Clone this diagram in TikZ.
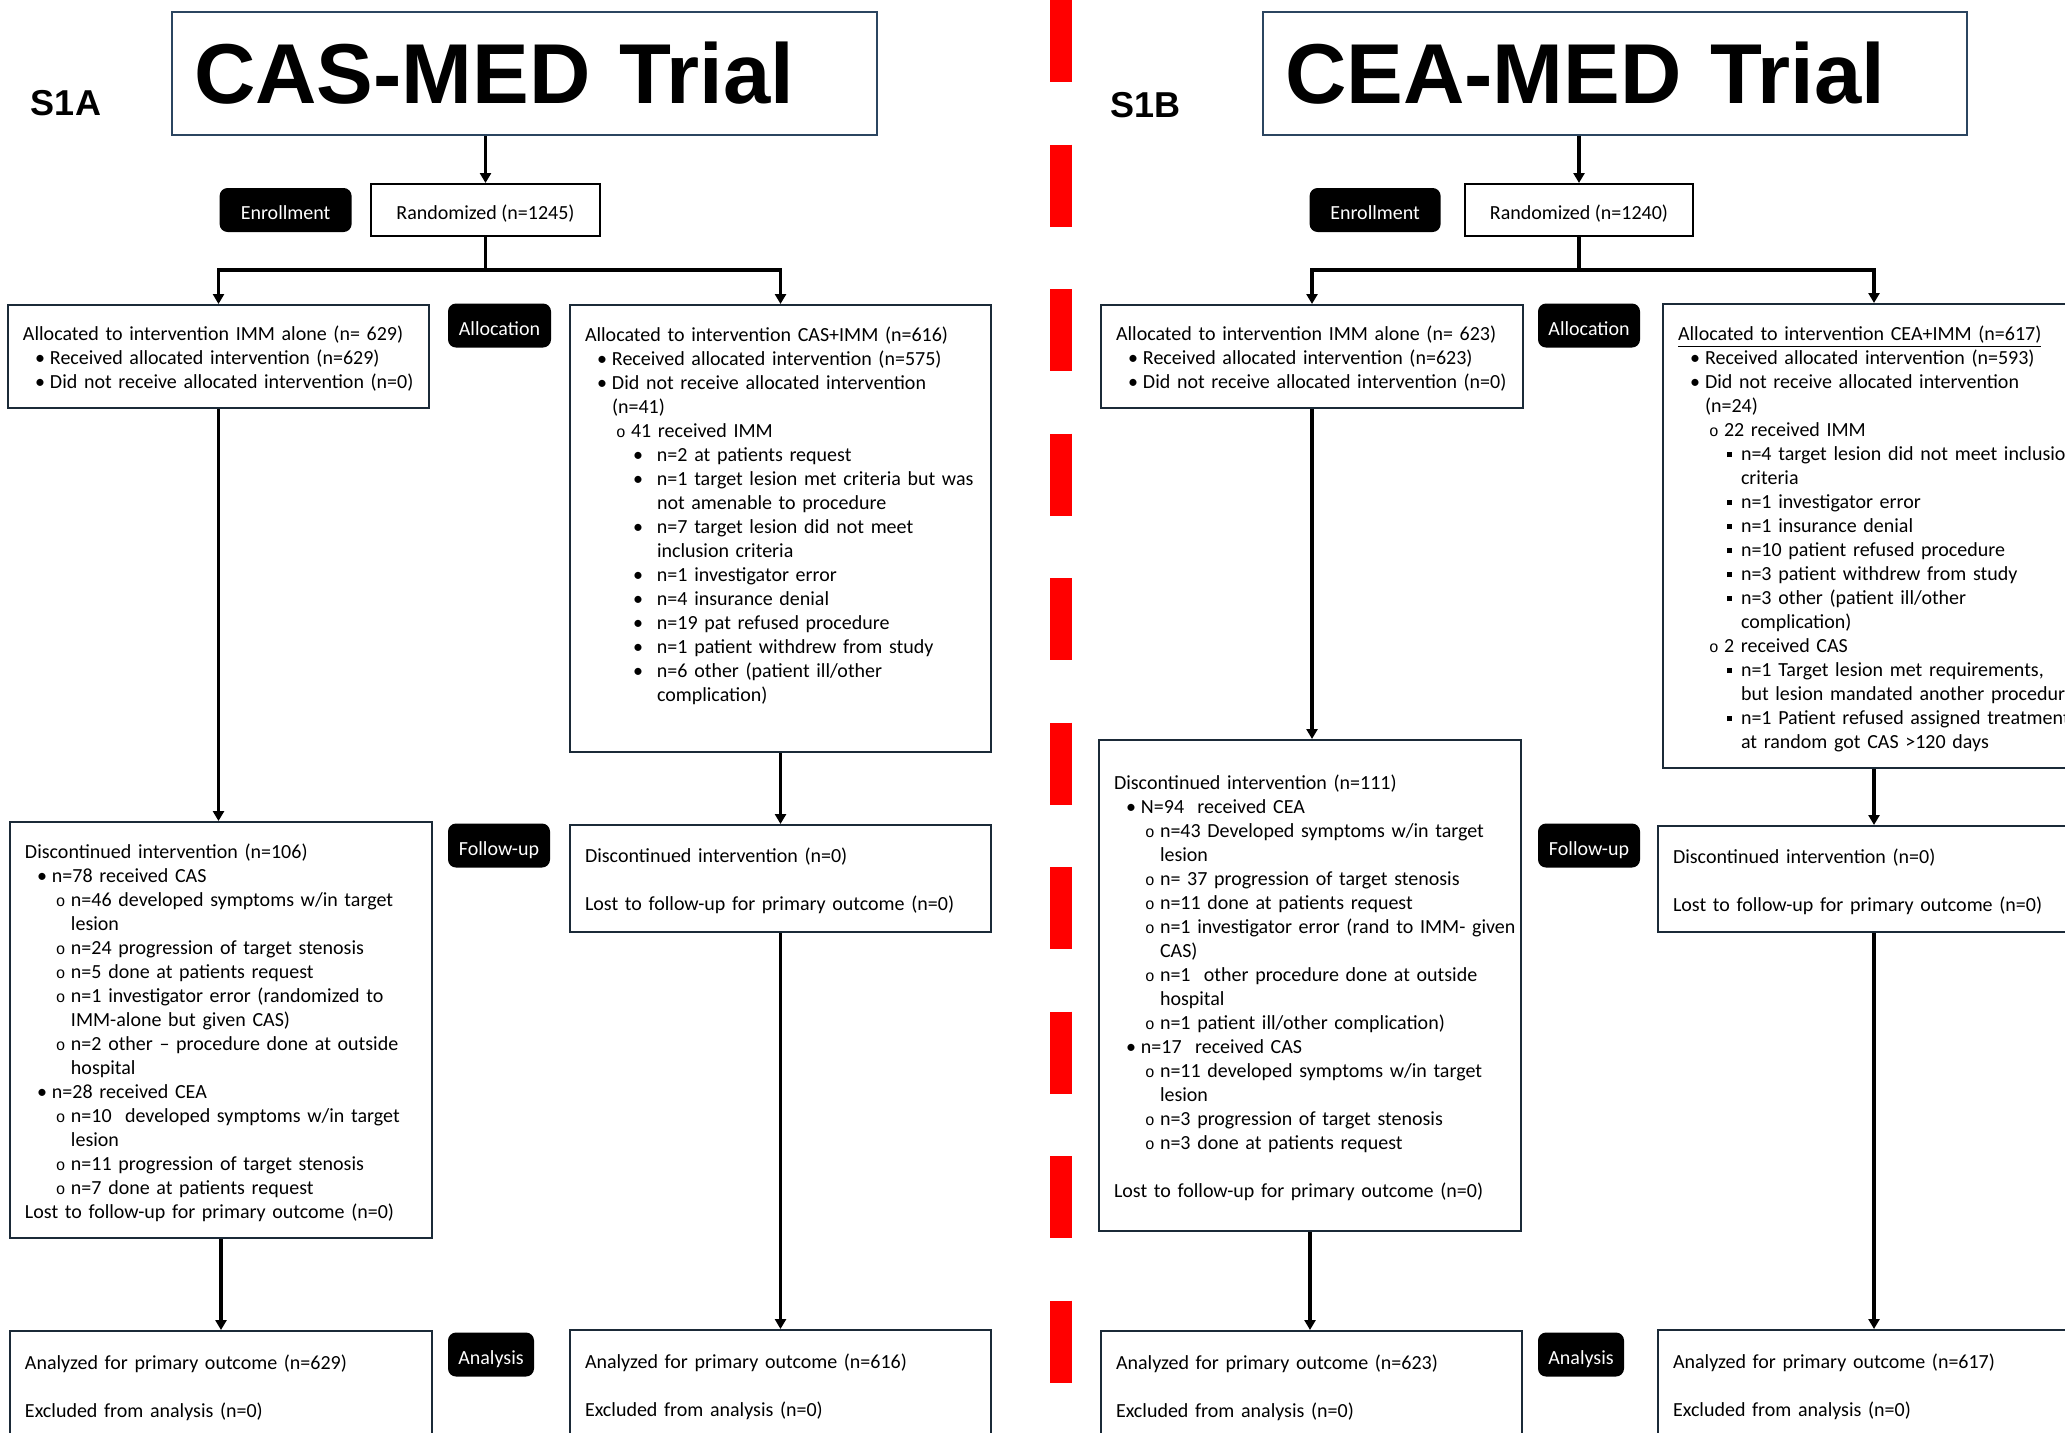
\documentclass[tikz,border=0pt]{standalone}
\usepackage{fontspec}
\setmainfont{Carlito}
\newfontfamily\headfont{Liberation Sans}
\newfontfamily\markfont{Liberation Mono}
\usetikzlibrary{positioning,arrows.meta}

\definecolor{boxline}{HTML}{1B2A38}
\definecolor{titleline}{HTML}{2B4560}

\newcommand{\flowfont}{\fontsize{10pt}{12pt}\selectfont}
\newcommand{\circmark}{{\markfont\fontsize{8pt}{8pt}\selectfont o}}
\newcommand{\sqmark}{\rule[1.6pt]{2.6pt}{2.6pt}}
\newcommand{\lzero}[1]{\par\noindent\strut\mbox{#1}}
\newcommand{\lone}[1]{\par\noindent\strut\makebox[13.5pt][l]{\hspace*{6pt}\textbullet}\mbox{#1}}
\newcommand{\ltwo}[1]{\par\noindent\strut\makebox[23pt][l]{\hspace*{15.5pt}\circmark}\mbox{#1}}
\newcommand{\lthr}[1]{\par\noindent\strut\makebox[36pt][l]{\hspace*{24pt}\textbullet}\mbox{#1}}
\newcommand{\lsq}[1]{\par\noindent\strut\makebox[31.5pt][l]{\hspace*{24.5pt}\sqmark}\mbox{#1}}
\newcommand{\lcont}[2]{\par\noindent\strut\hspace*{#1}\mbox{#2}}
\newcommand{\lblank}{\par\noindent\strut}
\newcommand{\lgap}[1]{\par\kern#1\hrule height 0pt width 0pt}

\tikzset{
  flowbox/.style={draw=boxline, line width=1pt, anchor=north west, inner xsep=7.5pt, inner ysep=0pt, align=left, font=\flowfont},
  titlebox/.style={draw=titleline, line width=1.1pt, anchor=north west, inner xsep=11pt, inner ysep=0pt, align=left, minimum width=352.5pt, text width=330.5pt, minimum height=61.5pt, font=\headfont\bfseries\fontsize{42.5pt}{42.5pt}\selectfont},
  randbox/.style={draw=black, line width=1pt, anchor=north west, minimum height=26pt, inner sep=0pt, text height=10pt, text depth=0.5pt, font=\flowfont},
  stagelbl/.style={fill=black, text=white, rounded corners=4pt, minimum height=22pt, inner sep=0pt, text height=10pt, text depth=0.5pt, font=\flowfont},
  flowarrow/.style={line width=1.6pt, -{Triangle[length=5pt,width=5.5pt]}},
  panelname/.style={font=\headfont\bfseries\fontsize{18pt}{18pt}\selectfont},
}

\begin{document}
\begin{tikzpicture}[x=0.5pt, y=-0.5pt]
\useasboundingbox (0,0) rectangle (2065,1432);
\clip (0,0) rectangle (2065,1432);

% divider
\draw[red, line width=11pt, dash pattern=on 41pt off 31.25pt] (1061,0) -- (1061,1432);

% NODES

% S1A, enrollment and allocation
\node[panelname] (tagA) at (66,103) {S1A};
\node[titlebox] (titleA) at (171,11) {CAS-MED Trial};
\node[randbox, minimum width=114.5pt] (randA) at (370,183) {Randomized (n=1245)};
\node[stagelbl, minimum width=66pt, left=9pt of randA] (enrolA) {Enrollment};
\node[flowbox, minimum width=210.5pt, minimum height=51.5pt, text width=195.5pt] (allocAL) at (7,304) {
  \lzero{Allocated to intervention IMM alone (n= 629)}
  \lone{Received allocated intervention (n=629)}
  \lone{Did not receive allocated intervention (n=0)}};
\node[stagelbl, minimum width=51.5pt] (allocA) at (499.5,325.5) {Allocation};
\node[flowbox, minimum width=210.5pt, minimum height=223.5pt, text width=195.5pt] (allocAR) at (569,304) {
  \lzero{Allocated to intervention CAS+IMM (n=616)}
  \lone{Received allocated intervention (n=575)}
  \lone{Did not receive allocated intervention}
  \lcont{13.5pt}{(n=41)}
  \ltwo{41 received IMM}
  \lthr{n=2 at patients request}
  \lthr{n=1 target lesion met criteria but was}
  \lcont{36pt}{not amenable to procedure}
  \lthr{n=7 target lesion did not meet}
  \lcont{36pt}{inclusion criteria}
  \lthr{n=1 investigator error}
  \lthr{n=4 insurance denial}
  \lthr{n=19 pat refused procedure}
  \lthr{n=1 patient withdrew from study}
  \lthr{n=6 other (patient ill/other}
  \lcont{36pt}{complication)}
  \lgap{15pt}};

% S1A, follow-up and analysis
\node[flowbox, minimum width=211pt, minimum height=208pt, text width=196pt] (followAL) at (9,821) {
  \lzero{Discontinued intervention (n=106)}
  \lone{n=78 received CAS}
  \ltwo{n=46 developed symptoms w/in target}
  \lcont{23pt}{lesion}
  \ltwo{n=24 progression of target stenosis}
  \ltwo{n=5 done at patients request}
  \ltwo{n=1 investigator error (randomized to}
  \lcont{23pt}{IMM-alone but given CAS)}
  \ltwo{n=2 other -- procedure done at outside}
  \lcont{23pt}{hospital}
  \lone{n=28 received CEA}
  \ltwo{n=10\ \ developed symptoms w/in target}
  \lcont{23pt}{lesion}
  \ltwo{n=11 progression of target stenosis}
  \ltwo{n=7 done at patients request}
  \lzero{Lost to follow-up for primary outcome (n=0)}};
\node[stagelbl, minimum width=51pt] (followA) at (499,845.5) {Follow-up};
\node[flowbox, minimum width=210.5pt, minimum height=53.5pt, text width=195.5pt] (followAR) at (569,824) {
  \lzero{Discontinued intervention (n=0)}
  \lblank
  \lzero{Lost to follow-up for primary outcome (n=0)}};
\node[flowbox, minimum width=211pt, minimum height=54pt, text width=196pt] (anaAL) at (9,1330) {
  \lzero{Analyzed for primary outcome (n=629)}
  \lblank
  \lzero{Excluded from analysis (n=0)}};
\node[stagelbl, minimum width=43pt] (anaA) at (491,1354.5) {Analysis};
\node[flowbox, minimum width=210.5pt, minimum height=54pt, text width=195.5pt] (anaAR) at (569,1329) {
  \lzero{Analyzed for primary outcome (n=616)}
  \lblank
  \lzero{Excluded from analysis (n=0)}};

% S1B, enrollment and allocation
\node[panelname] (tagB) at (1145,105) {S1B};
\node[titlebox, minimum width=352pt, text width=330pt] (titleB) at (1262,11) {CEA-MED Trial};
\node[randbox, minimum width=114pt] (randB) at (1464,183) {Randomized (n=1240)};
\node[stagelbl, minimum width=65.5pt, left=11.5pt of randB] (enrolB) {Enrollment};
\node[flowbox, minimum width=211pt, minimum height=51.5pt, text width=196pt] (allocBL) at (1100,304) {
  \lzero{Allocated to intervention IMM alone (n= 623)}
  \lone{Received allocated intervention (n=623)}
  \lone{Did not receive allocated intervention (n=0)}};
\node[stagelbl, minimum width=51pt] (allocB) at (1589,325.5) {Allocation};
\node[flowbox, minimum width=211pt, minimum height=232pt, text width=196pt] (allocBR) at (1662,303) {
  \lzero{\underline{Allocated to intervention CEA+IMM (n=617)}}
  \lone{Received allocated intervention (n=593)}
  \lone{Did not receive allocated intervention}
  \lcont{13.5pt}{(n=24)}
  \ltwo{22 received IMM}
  \lsq{n=4 target lesion did not meet inclusion}
  \lcont{31.5pt}{criteria}
  \lsq{n=1 investigator error}
  \lsq{n=1 insurance denial}
  \lsq{n=10 patient refused procedure}
  \lsq{n=3 patient withdrew from study}
  \lsq{n=3 other (patient ill/other}
  \lcont{31.5pt}{complication)}
  \ltwo{2 received CAS}
  \lsq{n=1 Target lesion met requirements,}
  \lcont{31.5pt}{but lesion mandated another procedure}
  \lsq{n=1 Patient refused assigned treatment}
  \lcont{31.5pt}{at random got CAS >120 days}};

% S1B, follow-up and analysis
\node[flowbox, minimum width=211pt, minimum height=245.5pt, text width=196pt] (discBL) at (1098,739) {
  \lzero{Discontinued intervention (n=111)}
  \lone{N=94\ \ received CEA}
  \ltwo{n=43 Developed symptoms w/in target}
  \lcont{23pt}{lesion}
  \ltwo{n= 37 progression of target stenosis}
  \ltwo{n=11 done at patients request}
  \ltwo{n=1 investigator error (rand to IMM- given}
  \lcont{23pt}{CAS)}
  \ltwo{n=1\ \ other procedure done at outside}
  \lcont{23pt}{hospital}
  \ltwo{n=1 patient ill/other complication)}
  \lone{n=17\ \ received CAS}
  \ltwo{n=11 developed symptoms w/in target}
  \lcont{23pt}{lesion}
  \ltwo{n=3 progression of target stenosis}
  \ltwo{n=3 done at patients request}
  \lblank
  \lzero{Lost to follow-up for primary outcome (n=0)}};
\node[stagelbl, minimum width=51pt] (followB) at (1589,845.5) {Follow-up};
\node[flowbox, minimum width=216pt, minimum height=53pt, text width=201pt] (followBR) at (1657,825) {
  \lzero{Discontinued intervention (n=0)}
  \lblank
  \lzero{Lost to follow-up for primary outcome (n=0)}};
\node[flowbox, minimum width=210.5pt, minimum height=54pt, text width=195.5pt] (anaBL) at (1100,1330) {
  \lzero{Analyzed for primary outcome (n=623)}
  \lblank
  \lzero{Excluded from analysis (n=0)}};
\node[stagelbl, minimum width=43pt] (anaB) at (1581,1354.5) {Analysis};
\node[flowbox, minimum width=216pt, minimum height=54pt, text width=201pt] (anaBR) at (1657,1329) {
  \lzero{Analyzed for primary outcome (n=617)}
  \lblank
  \lzero{Excluded from analysis (n=0)}};

%CONNECTIONS
\draw[flowarrow] (titleA.south -| randA.north) -- (randA.north);
\draw[flowarrow] (randA.south) -- ++(0,33) -| (allocAL.north);
\draw[flowarrow] (randA.south) -- ++(0,33) -| (allocAR.north);
\draw[flowarrow] (allocAL.south) -- (allocAL.south |- followAL.north);
\draw[flowarrow] (allocAR.south) -- (allocAR.south |- followAR.north);
\draw[flowarrow] (followAL.south) -- (followAL.south |- anaAL.north);
\draw[flowarrow] (followAR.south) -- (followAR.south |- anaAR.north);

\draw[flowarrow] (titleB.south -| randB.north) -- (randB.north);
\draw[flowarrow] (randB.south) -- ++(0,33) -| (allocBL.north);
\draw[flowarrow] (randB.south) -- ++(0,33) -| (allocBR.north);
\draw[flowarrow] (allocBL.south) -- (allocBL.south |- discBL.north);
\draw[flowarrow] (allocBR.south) -- (allocBR.south |- followBR.north);
\draw[flowarrow] (discBL.south) -- (discBL.south |- anaBL.north);
\draw[flowarrow] (followBR.south) -- (followBR.south |- anaBR.north);

\end{tikzpicture}
\end{document}
